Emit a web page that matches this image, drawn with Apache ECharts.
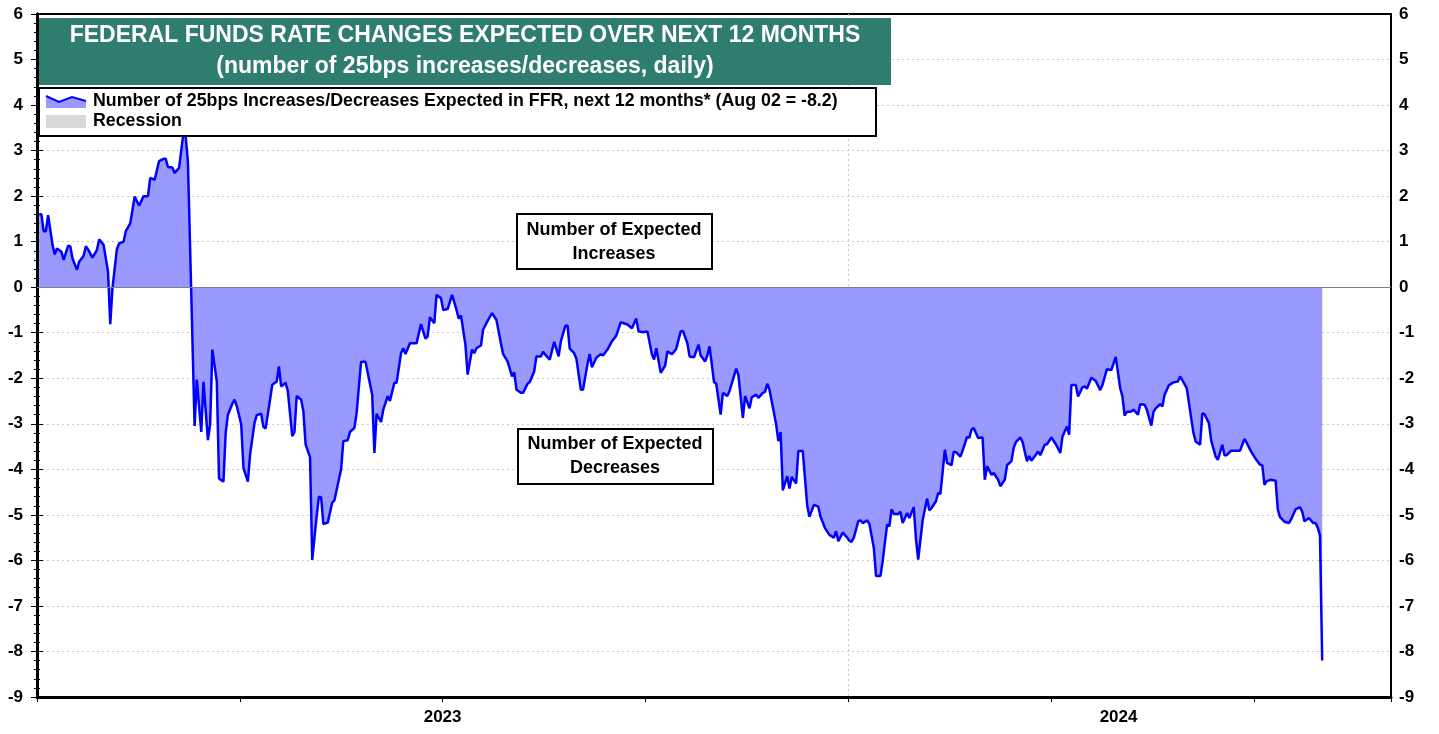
<!DOCTYPE html>
<html>
<head>
<meta charset="utf-8">
<title>Federal funds rate changes expected over next 12 months</title>
<script src="https://cdn.jsdelivr.net/npm/echarts@6/dist/echarts.min.js"></script>
<style>
  html, body { margin: 0; padding: 0; background: #fff; }
  #chart { width: 1439px; height: 734px; }
</style>
</head>
<body>
<div id="chart"></div>
<script>
var FONT = '"Liberation Sans", Arial, sans-serif';

var titleLines = ['FEDERAL FUNDS RATE CHANGES EXPECTED OVER NEXT 12 MONTHS',
                  '(number of 25bps increases/decreases, daily)'];
var seriesName = 'Number of 25bps Increases/Decreases Expected in FFR, next 12 months* (Aug 02 = -8.2)';
var recessionName = 'Recession';
var noteUp = ['Number of Expected', 'Increases'];
var noteDown = ['Number of Expected', 'Decreases'];
var yearLabels = ['2023', '2024'];

// daily readings, one month per line
var dates = [
  '2023-01-02','2023-01-03','2023-01-04','2023-01-05','2023-01-06','2023-01-08','2023-01-09','2023-01-10','2023-01-12','2023-01-13','2023-01-15','2023-01-16','2023-01-17','2023-01-19','2023-01-20','2023-01-22','2023-01-23','2023-01-24','2023-01-26','2023-01-28','2023-01-29','2023-01-31',
  '2023-02-02','2023-02-03','2023-02-04','2023-02-06','2023-02-07','2023-02-09','2023-02-10','2023-02-12','2023-02-14','2023-02-16','2023-02-18','2023-02-20','2023-02-21','2023-02-23','2023-02-25','2023-02-27','2023-02-28',
  '2023-03-01','2023-03-03','2023-03-04','2023-03-06','2023-03-08','2023-03-09','2023-03-10','2023-03-13','2023-03-14','2023-03-16','2023-03-17','2023-03-19','2023-03-20','2023-03-21','2023-03-23','2023-03-24','2023-03-26','2023-03-27','2023-03-28','2023-03-30','2023-03-31',
  '2023-04-01','2023-04-03','2023-04-04','2023-04-06','2023-04-07','2023-04-09','2023-04-10','2023-04-12','2023-04-13','2023-04-14','2023-04-16','2023-04-17','2023-04-19','2023-04-20','2023-04-21','2023-04-23','2023-04-24','2023-04-26','2023-04-27','2023-04-28','2023-04-30',
  '2023-05-01','2023-05-02','2023-05-04','2023-05-05','2023-05-07','2023-05-08','2023-05-09','2023-05-10','2023-05-12','2023-05-14','2023-05-15','2023-05-18','2023-05-19','2023-05-21','2023-05-22','2023-05-24','2023-05-25','2023-05-27','2023-05-29',
  '2023-06-01','2023-06-02','2023-06-03','2023-06-05','2023-06-06','2023-06-08','2023-06-09','2023-06-11','2023-06-12','2023-06-14','2023-06-15','2023-06-16','2023-06-18','2023-06-21','2023-06-23','2023-06-25','2023-06-26','2023-06-27','2023-06-29','2023-06-30',
  '2023-07-02','2023-07-03','2023-07-05','2023-07-07','2023-07-09','2023-07-10','2023-07-11','2023-07-13','2023-07-14','2023-07-16','2023-07-17','2023-07-18','2023-07-20','2023-07-21','2023-07-23','2023-07-25','2023-07-27','2023-07-29','2023-07-30',
  '2023-08-01','2023-08-03','2023-08-04','2023-08-05','2023-08-07','2023-08-08','2023-08-10','2023-08-11','2023-08-13','2023-08-14','2023-08-16','2023-08-17','2023-08-18','2023-08-20','2023-08-22','2023-08-24','2023-08-25','2023-08-27','2023-08-28','2023-08-29','2023-08-31',
  '2023-09-01','2023-09-03','2023-09-04','2023-09-06','2023-09-07','2023-09-08','2023-09-10','2023-09-12','2023-09-13','2023-09-15','2023-09-17','2023-09-19','2023-09-21','2023-09-24','2023-09-26','2023-09-28','2023-09-29',
  '2023-10-01','2023-10-03','2023-10-05','2023-10-06','2023-10-07','2023-10-09','2023-10-11','2023-10-12','2023-10-14','2023-10-15','2023-10-16','2023-10-18','2023-10-19','2023-10-21','2023-10-22','2023-10-24','2023-10-26','2023-10-27','2023-10-29','2023-10-30','2023-10-31',
  '2023-11-02','2023-11-03','2023-11-05','2023-11-06','2023-11-08','2023-11-09','2023-11-12','2023-11-13','2023-11-15','2023-11-16','2023-11-18','2023-11-19','2023-11-21','2023-11-22','2023-11-24','2023-11-25','2023-11-26','2023-11-27','2023-11-30',
  '2023-12-01','2023-12-02','2023-12-03','2023-12-05','2023-12-06','2023-12-07','2023-12-09','2023-12-10','2023-12-12','2023-12-14','2023-12-15','2023-12-17','2023-12-19','2023-12-20','2023-12-22','2023-12-24','2023-12-26','2023-12-27','2023-12-28','2023-12-30',
  '2024-01-01','2024-01-02','2024-01-03','2024-01-04','2024-01-06','2024-01-07','2024-01-08','2024-01-10','2024-01-11','2024-01-13','2024-01-14','2024-01-16','2024-01-17','2024-01-19','2024-01-20','2024-01-21','2024-01-22','2024-01-24','2024-01-25','2024-01-26','2024-01-28','2024-01-29','2024-01-31',
  '2024-02-01','2024-02-02','2024-02-04','2024-02-06','2024-02-07','2024-02-08','2024-02-10','2024-02-11','2024-02-12','2024-02-14','2024-02-15','2024-02-17','2024-02-18','2024-02-19','2024-02-21','2024-02-22','2024-02-24','2024-02-25','2024-02-26','2024-02-27','2024-02-29',
  '2024-03-02','2024-03-03','2024-03-04','2024-03-06','2024-03-07','2024-03-09','2024-03-10','2024-03-12','2024-03-13','2024-03-15','2024-03-16','2024-03-17','2024-03-19','2024-03-20','2024-03-22','2024-03-23','2024-03-24','2024-03-26','2024-03-27','2024-03-28','2024-03-30','2024-03-31',
  '2024-04-02','2024-04-04','2024-04-06','2024-04-07','2024-04-09','2024-04-10','2024-04-11','2024-04-13','2024-04-14','2024-04-16','2024-04-17','2024-04-18','2024-04-20','2024-04-22','2024-04-24','2024-04-25','2024-04-27','2024-04-29',
  '2024-05-01','2024-05-03','2024-05-04','2024-05-05','2024-05-06','2024-05-08','2024-05-09','2024-05-11','2024-05-12','2024-05-14','2024-05-15','2024-05-17','2024-05-18','2024-05-19','2024-05-21','2024-05-22','2024-05-23','2024-05-25','2024-05-27','2024-05-29','2024-05-30',
  '2024-06-01','2024-06-02','2024-06-04','2024-06-05','2024-06-06','2024-06-08','2024-06-09','2024-06-10','2024-06-12','2024-06-13','2024-06-15','2024-06-16','2024-06-18','2024-06-19','2024-06-20','2024-06-22','2024-06-26','2024-06-28','2024-06-29',
  '2024-07-01','2024-07-03','2024-07-05','2024-07-06','2024-07-07','2024-07-08','2024-07-10','2024-07-12','2024-07-13','2024-07-14','2024-07-16','2024-07-18','2024-07-19','2024-07-21','2024-07-23','2024-07-24','2024-07-25','2024-07-27','2024-07-29','2024-07-30','2024-07-31',
  '2024-08-01','2024-08-02'
];

var values = [
  1.6, 1.6, 1.23, 1.23, 1.58, 0.93, 0.72, 0.85, 0.78, 0.6, 0.91, 0.9, 0.63, 0.38, 0.56, 0.69, 0.9, 0.83, 0.65, 0.82, 1.05, 0.93,
  0.34, -0.81, -0.02, 0.84, 0.96, 1.0, 1.23, 1.4, 1.99, 1.79, 2.0, 2.0, 2.4, 2.36, 2.77, 2.82, 2.82,
  2.64, 2.63, 2.51, 2.62, 3.4, 3.3, 2.75, -3.05, -2.03, -3.18, -2.08, -3.36, -3.01, -1.37, -2.07, -4.2, -4.27, -3.2, -2.8, -2.56, -2.47,
  -2.61, -3.01, -3.96, -4.27, -3.67, -2.98, -2.81, -2.78, -3.07, -3.1, -2.47, -2.14, -2.07, -1.74, -2.18, -2.1, -2.28, -3.27, -3.18, -2.39, -2.47,
  -2.72, -3.45, -3.73, -5.99, -5.02, -4.6, -4.61, -5.2, -5.17, -4.73, -4.68, -4.0, -3.38, -3.36, -3.18, -3.09, -2.76, -1.64, -1.64,
  -2.36, -3.64, -2.78, -2.96, -2.69, -2.39, -2.5, -2.1, -2.1, -1.45, -1.34, -1.47, -1.23, -1.23, -0.81, -1.13, -1.08, -0.66, -0.79, -0.17,
  -0.24, -0.5, -0.48, -0.17, -0.5, -0.69, -0.62, -1.26, -1.92, -1.37, -1.45, -1.34, -1.28, -0.93, -0.74, -0.57, -0.72, -1.23, -1.47,
  -1.63, -1.96, -1.87, -2.25, -2.32, -2.32, -2.12, -2.08, -1.85, -1.52, -1.52, -1.42, -1.48, -1.59, -1.2, -1.52, -1.19, -0.85, -0.84, -1.35, -1.45,
  -1.57, -2.25, -2.25, -1.69, -1.47, -1.76, -1.55, -1.47, -1.5, -1.37, -1.19, -1.06, -0.77, -0.82, -0.9, -0.69, -0.97,
  -0.99, -0.97, -1.47, -1.59, -1.34, -1.88, -1.72, -1.41, -1.47, -1.42, -1.35, -0.97, -0.96, -1.23, -1.52, -1.54, -1.26, -1.5, -1.63, -1.5, -1.3,
  -2.08, -2.12, -2.8, -2.32, -2.39, -2.28, -1.79, -1.93, -2.87, -2.39, -2.66, -2.42, -2.36, -2.43, -2.32, -2.3, -2.12, -2.25, -3.01,
  -3.38, -3.18, -4.46, -4.15, -4.42, -4.17, -4.31, -3.6, -3.6, -4.8, -5.04, -4.78, -4.82, -5.04, -5.29, -5.44, -5.5, -5.36, -5.58, -5.39,
  -5.5, -5.57, -5.59, -5.5, -5.14, -5.12, -5.18, -5.12, -5.2, -5.72, -6.34, -6.34, -6.01, -5.21, -5.25, -4.88, -4.98, -4.98, -4.93, -5.18, -4.96, -5.07, -4.83,
  -5.54, -5.98, -5.12, -4.64, -4.9, -4.85, -4.7, -4.52, -4.54, -3.57, -3.86, -3.91, -3.62, -3.62, -3.72, -3.59, -3.29, -3.31, -3.13, -3.09, -3.31,
  -3.3, -4.23, -3.93, -4.12, -4.08, -4.23, -4.37, -4.23, -3.91, -3.82, -3.53, -3.4, -3.3, -3.4, -3.82, -3.71, -3.81, -3.68, -3.61, -3.69, -3.46, -3.45,
  -3.3, -3.45, -3.64, -3.28, -3.06, -3.24, -2.15, -2.15, -2.4, -2.2, -2.18, -2.23, -1.99, -2.06, -2.26, -2.15, -1.8, -1.82,
  -1.53, -2.22, -2.4, -2.82, -2.74, -2.73, -2.69, -2.8, -2.57, -2.58, -2.69, -3.04, -2.74, -2.66, -2.57, -2.62, -2.36, -2.15, -2.09, -2.07, -1.96,
  -2.13, -2.22, -2.88, -3.2, -3.39, -3.46, -2.77, -2.79, -2.99, -3.37, -3.72, -3.79, -3.46, -3.69, -3.69, -3.59, -3.59, -3.33, -3.42,
  -3.61, -3.77, -3.9, -3.91, -4.34, -4.26, -4.23, -4.25, -4.88, -5.05, -5.15, -5.18, -5.1, -4.88, -4.83, -4.93, -5.14, -5.07, -5.18, -5.18, -5.28,
  -5.45, -8.2
];

var seriesData = [];
for (var i = 0; i < dates.length; i++) {
    seriesData.push([dates[i], values[i]]);
}

// months counted from Jan 2023 to the axis end (Sep 2, 2024)
var monthSpan = 20.03;

var labelStyle = {color: '#000', fontWeight: 'bold', fontSize: 17, fontFamily: FONT};
var dotted = {color: '#c8c8c8', width: 1, type: [2, 3]};

function yAxisDef(pos) {
    return {
        type: 'value',
        position: pos,
        min: -9,
        max: 6,
        interval: 1,
        axisLine: {show: true, lineStyle: {color: '#000', width: 3}},
        axisTick: {show: true, length: 6, lineStyle: {color: '#000', width: 1}},
        minorTick: {show: true, splitNumber: 5, length: 3, lineStyle: {color: '#000', width: 1}},
        axisLabel: Object.assign({margin: pos === 'left' ? 14 : 8}, labelStyle),
        splitLine: {show: pos === 'left', showMinLine: false, showMaxLine: false, lineStyle: dotted}
    };
}

function monthAxis(interval, extra) {
    return Object.assign({
        type: 'value',
        position: 'bottom',
        min: 0,
        max: monthSpan,
        interval: interval,
        axisLine: {show: false, onZero: false},
        axisTick: {show: false},
        axisLabel: {show: false},
        splitLine: {show: false}
    }, extra);
}

// label each year in the middle of the part of it that is on the axis
function yearLabel(v) {
    for (var k = 0; k < yearLabels.length; k++) {
        var mid = Math.round((12 * k + Math.min(12 * k + 12, monthSpan)) / 2);
        if (v === mid) return yearLabels[k];
    }
    return '';
}

function textEl(str, x, y, color, size) {
    return {
        type: 'text', x: x, y: y, z: 110,
        style: {
            text: str, fill: color, align: 'center', verticalAlign: 'middle',
            font: 'bold ' + size + 'px ' + FONT
        }
    };
}

var option = {
    backgroundColor: '#fff',
    animation: false,
    grid: {
        left: 37, right: 48, top: 14, bottom: 37,
        show: true, borderColor: '#000', borderWidth: 2
    },
    xAxis: [
        {
            type: 'time',
            min: '2023-01-01',
            max: '2024-09-02',
            axisLine: {show: true, onZero: false, lineStyle: {color: '#000', width: 3}},
            axisTick: {show: false},
            axisLabel: {show: false},
            splitLine: {show: false}
        },
        // quarterly ticks
        monthAxis(3, {
            axisTick: {
                show: true, length: 5, lineStyle: {color: '#000', width: 1},
                interval: function (idx, v) { return v % 3 === 0; }
            }
        }),
        // year labels
        monthAxis(1, {
            axisLabel: Object.assign({show: true, margin: 12, formatter: yearLabel}, labelStyle)
        }),
        // year boundary grid line
        monthAxis(12, {splitLine: {show: true, showMinLine: false, showMaxLine: false, lineStyle: dotted}})
    ],
    yAxis: [yAxisDef('left'), yAxisDef('right')],
    series: [
        {
            name: seriesName,
            type: 'line',
            xAxisIndex: 0,
            yAxisIndex: 0,
            data: seriesData,
            showSymbol: false,
            symbol: 'none',
            lineStyle: {color: '#0000ff', width: 2.5},
            itemStyle: {color: '#0000ff'},
            areaStyle: {color: '#9999ff', opacity: 1},
            markLine: {
                silent: true,
                symbol: ['none', 'none'],
                label: {show: false},
                lineStyle: {color: '#7f7f7f', width: 1, type: 'solid'},
                data: [{yAxis: 0}]
            }
        }
    ],
    graphic: [
        // title banner
        {type: 'rect', z: 100, shape: {x: 39, y: 18, width: 852, height: 67}, style: {fill: '#2e7d6f'}},
        textEl(titleLines[0], 465, 36, '#fff', 23),
        textEl(titleLines[1], 465, 67, '#fff', 23),
        // legend box
        {type: 'rect', z: 100, shape: {x: 39, y: 88, width: 837, height: 48}, style: {fill: '#fff', stroke: '#000', lineWidth: 2}},
        {type: 'polygon', z: 105, shape: {points: [[46, 96], [59, 102], [72, 97], [86, 101], [86, 108], [46, 108]]}, style: {fill: '#9999ff'}},
        {type: 'polyline', z: 106, shape: {points: [[46, 96], [59, 102], [72, 97], [86, 101]]}, style: {stroke: '#0000ff', lineWidth: 2, fill: null}},
        {type: 'rect', z: 105, shape: {x: 46, y: 115, width: 40, height: 13}, style: {fill: '#d9d9d9'}},
        {type: 'text', z: 110, x: 93, y: 101, style: {text: seriesName, fill: '#000', verticalAlign: 'middle', font: 'bold 17.8px ' + FONT}},
        {type: 'text', z: 110, x: 93, y: 121, style: {text: recessionName, fill: '#000', verticalAlign: 'middle', font: 'bold 17.8px ' + FONT}},
        // annotation boxes
        {type: 'rect', z: 100, shape: {x: 517, y: 214, width: 195, height: 55}, style: {fill: '#fff', stroke: '#000', lineWidth: 2}},
        textEl(noteUp[0], 614, 230, '#000', 18),
        textEl(noteUp[1], 614, 254, '#000', 18),
        {type: 'rect', z: 100, shape: {x: 518, y: 429, width: 195, height: 55}, style: {fill: '#fff', stroke: '#000', lineWidth: 2}},
        textEl(noteDown[0], 615, 444, '#000', 18),
        textEl(noteDown[1], 615, 468, '#000', 18)
    ]
};

echarts.init(document.getElementById('chart'), null, {renderer: 'canvas'}).setOption(option);
</script>
</body>
</html>
